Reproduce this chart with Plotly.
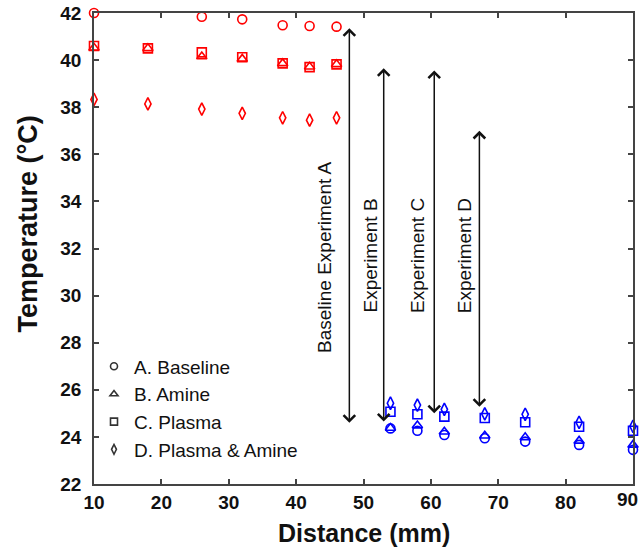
import plotly.graph_objects as go

# ---- data ----
x_red = [10, 18, 26, 32, 38, 42, 46]
x_blue = [54, 58, 62, 68, 74, 82, 90]

series_names = ["A. Baseline", "B. Amine", "C. Plasma", "D. Plasma & Amine"]
series_symbols = ["circle-open", "triangle-up-open", "square-open", "diamond-tall-open"]

a_red = [42.0, None, 41.84, 41.73, 41.48, 41.45, 41.42]
a_blue = [24.36, 24.26, 24.08, 23.94, 23.80, 23.66, 23.45]
b_red = [40.52, 40.50, 40.15, 40.05, 39.86, 39.72, 39.82]
b_blue = [24.38, 24.48, 24.22, 24.05, 23.98, 23.83, 23.66]
c_red = [40.60, 40.50, 40.33, 40.12, 39.86, 39.70, 39.82]
c_blue = [25.07, 24.96, 24.86, 24.80, 24.62, 24.43, 24.26]
d_red = [38.33, 38.14, 37.92, 37.74, 37.55, 37.45, 37.55]
d_blue = [25.43, 25.35, 25.17, 24.98, 24.96, 24.62, 24.45]

red_vals = [a_red, b_red, c_red, d_red]
blue_vals = [a_blue, b_blue, c_blue, d_blue]

# x tick labels
x_tickvals = [10, 20, 30, 40, 50, 60, 70, 80, 90]
x_ticktext = ["10", "20", "30", "40", "50", "60", "70", "80", "90"]

# arrows and their labels
arrow_x = [47.9, 53.0, 60.5, 67.2]
arrow_top = [41.42, 39.72, 39.62, 37.06]
arrow_bottom = [24.6, 24.65, 25.0, 25.28]
label_text = ["Baseline Experiment A", "Experiment B", "Experiment C", "Experiment D"]
label_x = [44.3, 51.1, 58.0, 65.0]
label_y = [31.6, 31.7, 31.7, 31.7]

x_title = "Distance (mm)"
y_title = "Temperature (°C)"

FONT = "Liberation Sans, Arial, sans-serif"
TICKFONT = dict(family=FONT, size=19, color="#111111", weight="bold")

fig = go.Figure()

for i in range(4):
    for xs, ys, col in ((x_red, red_vals[i], "#ff0000"), (x_blue, blue_vals[i], "#0000ff")):
        fig.add_trace(go.Scatter(
            x=xs, y=ys, mode="markers", showlegend=False, cliponaxis=False,
            marker=dict(symbol=series_symbols[i], size=9, color=col,
                        line=dict(width=1.6, color=col)),
        ))

for i in range(4):
    fig.add_trace(go.Scatter(
        x=[None], y=[None], mode="markers", name=series_names[i],
        marker=dict(symbol=series_symbols[i], size=7, color="#333333",
                    line=dict(width=1.6, color="#333333")),
    ))

for i in range(4):
    fig.add_annotation(
        x=arrow_x[i], y=arrow_bottom[i], ax=arrow_x[i], ay=arrow_top[i],
        xref="x", yref="y", axref="x", ayref="y", text="",
        showarrow=True, arrowhead=4, startarrowhead=4, arrowside="end+start",
        arrowsize=1.5, startarrowsize=1.5, arrowwidth=1.5, arrowcolor="#111111",
        standoff=0, startstandoff=0,
    )
    fig.add_annotation(
        x=label_x[i], y=label_y[i], xref="x", yref="y", text=label_text[i],
        showarrow=False, textangle=-90,
        font=dict(family=FONT, size=19, color="#111111"),
    )

# last x tick label, kept inside the page at the right edge
shown_ticktext = x_ticktext[:-1] + [""]
fig.add_annotation(x=x_tickvals[-1], y=0, xref="x", yref="paper", text=x_ticktext[-1],
                   showarrow=False, xanchor="right", yanchor="top", xshift=7, yshift=-3,
                   font=TICKFONT)

# axis titles (placed as annotations to match reference positions)
fig.add_annotation(x=0.5, y=-0.105, xref="paper", yref="paper", text=x_title,
                   showarrow=False, xanchor="center", yanchor="middle",
                   font=dict(family=FONT, size=25, weight="bold", color="#111111"))
fig.add_annotation(x=-0.1224, y=0.551, xref="paper", yref="paper", text=y_title,
                   showarrow=False, textangle=-90, xanchor="center", yanchor="middle",
                   font=dict(family=FONT, size=27, weight="bold", color="#111111"))

axis_common = dict(
    showline=True, linecolor="#444444", linewidth=1.5, mirror="ticks",
    ticks="inside", ticklen=5, tickwidth=1.5, tickcolor="#444444",
    showgrid=False, zeroline=False, ticklabeloverflow="allow", automargin=False,
    tickfont=TICKFONT,
)

fig.update_layout(
    width=641, height=551,
    margin=dict(l=94, r=8, t=13, b=67),
    paper_bgcolor="white", plot_bgcolor="white",
    font=dict(family=FONT, color="#111111"),
    xaxis=dict(range=[10, 90], tickmode="array", tickvals=x_tickvals,
               ticktext=shown_ticktext, ticklabelstandoff=0, **axis_common),
    yaxis=dict(range=[22, 42], tickmode="linear", tick0=22, dtick=2,
               ticklabelstandoff=7, **axis_common),
    legend=dict(x=0.0, y=0.29, xanchor="left", yanchor="top",
                bgcolor="rgba(0,0,0,0)",
                font=dict(family=FONT, size=19, color="#111111")),
)

fig.write_html("out.html")
